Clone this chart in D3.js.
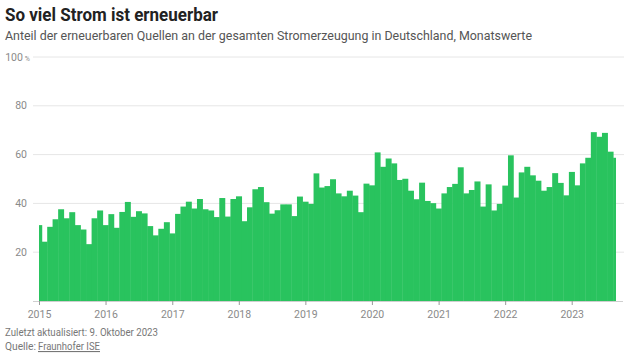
<!DOCTYPE html>
<html>
<head>
<meta charset="utf-8">
<script src="https://cdn.jsdelivr.net/npm/d3@7"></script>
<style>
	body { margin: 0; background: #fff; }
	svg { display: block; font-family: "Roboto", sans-serif; }
</style>
</head>
<body>
<div id="chart"></div>
<script>
// Anteil erneuerbarer Quellen, Monatswerte in Prozent
var years = [2015, 2016, 2017, 2018, 2019, 2020, 2021, 2022, 2023];
var v2015 = [31.1, 24.3, 30.4, 33.5, 37.6, 33.9, 36.4, 31.1, 29.3, 23.3, 33.9, 37.1];
var v2016 = [31.1, 35.6, 30.0, 36.5, 40.6, 34.5, 36.8, 35.9, 30.7, 26.9, 29.6, 32.3];
var v2017 = [27.7, 35.7, 38.7, 40.7, 37.9, 41.8, 37.6, 37.1, 34.4, 42.2, 34.6, 41.8];
var v2018 = [42.9, 32.7, 38.4, 45.8, 46.7, 40.5, 35.8, 37.2, 39.6, 39.6, 34.8, 42.8];
var v2019 = [40.7, 39.8, 52.3, 46.5, 47.1, 49.9, 44.1, 42.9, 45.2, 43.2, 36.4, 48.1];
var v2020 = [47.4, 60.9, 55.0, 58.4, 56.4, 49.6, 50.1, 45.2, 41.7, 48.5, 41.0, 40.1];
var v2021 = [37.9, 44.1, 46.7, 48.0, 54.8, 44.1, 45.5, 49.0, 38.7, 47.8, 37.1, 39.8];
var v2022 = [47.3, 59.7, 42.4, 52.7, 55.0, 51.5, 49.3, 45.2, 46.7, 52.4, 48.4, 43.3];
var v2023 = [52.9, 47.4, 56.4, 58.7, 69.2, 67.3, 68.9, 61.2, 58.7];
var yTicks = [20, 40, 60, 80, 100];

var title = "So viel Strom ist erneuerbar";
var subtitle = "Anteil der erneuerbaren Quellen an der gesamten Stromerzeugung in Deutschland, Monatswerte";

var all = [v2015, v2016, v2017, v2018, v2019, v2020, v2021, v2022, v2023];
var data = [];
all.forEach(function (arr, i) {
	arr.forEach(function (v, m) {
		data.push({ date: new Date(years[i], m, 1), value: v });
	});
});

var width = 624, height = 356;
var svg = d3.select("#chart").append("svg")
	.attr("width", width)
	.attr("height", height);

var x = d3.scaleTime()
	.domain([data[0].date, data[data.length - 1].date])
	.range([39, 616]);
var y = d3.scaleLinear()
	.domain([0, 100])
	.range([301, 57]);

// titles (condensed font not available -> squeeze with textLength)
svg.append("text")
	.attr("x", 5).attr("y", 21)
	.attr("textLength", 213).attr("lengthAdjust", "spacingAndGlyphs")
	.style("font-size", "18px").style("font-weight", "bold")
	.attr("fill", "#222")
	.text(title);
svg.append("text")
	.attr("x", 5).attr("y", 40)
	.attr("textLength", 527).attr("lengthAdjust", "spacingAndGlyphs")
	.style("font-size", "13.5px")
	.attr("fill", "#555")
	.text(subtitle);

// grid
svg.append("g").selectAll("line")
	.data(yTicks)
	.enter().append("line")
	.attr("x1", 33).attr("x2", 624)
	.attr("y1", function (d) { return y(d); })
	.attr("y2", function (d) { return y(d); })
	.attr("stroke", "#e6e6e6");

var yl = svg.append("g").selectAll("text")
	.data(yTicks)
	.enter().append("text")
	.attr("x", function (d) { return d == 100 ? 30 : 27; })
	.attr("y", function (d) { return y(d); })
	.attr("dy", "0.35em")
	.attr("text-anchor", "end")
	.attr("fill", "#8a8a8a")
	.style("font-size", "10.5px");
yl.append("tspan").text(function (d) { return d; });
yl.filter(function (d) { return d == 100; })
	.append("tspan").attr("dx", 2).style("font-size", "7px").text("%");

// bars, centred on month start, clipped to plot
svg.append("clipPath").attr("id", "clip")
	.append("rect")
	.attr("x", 39).attr("y", 0)
	.attr("width", 616 - 39).attr("height", 302);

function left(d) {
	return (x(d3.timeMonth.offset(d.date, -1)) + x(d.date)) / 2;
}
function right(d) {
	return (x(d.date) + x(d3.timeMonth.offset(d.date, 1))) / 2;
}

svg.append("g")
	.attr("clip-path", "url(#clip)")
	.selectAll("rect")
	.data(data)
	.enter().append("rect")
	.attr("x", left)
	.attr("y", function (d) { return y(d.value); })
	.attr("width", function (d) { return right(d) - left(d) + 0.4; })
	.attr("height", function (d) { return y(0) - y(d.value); })
	.attr("fill", "#29c35e");

// x axis
svg.append("line")
	.attr("x1", 33).attr("x2", 623)
	.attr("y1", 301.5).attr("y2", 301.5)
	.attr("stroke", "#cfcfcf");

var xAxis = svg.append("g")
	.attr("transform", "translate(0,301)")
	.call(d3.axisBottom(x)
		.ticks(d3.timeYear.every(1))
		.tickSize(4)
		.tickPadding(6)
		.tickFormat(d3.timeFormat("%Y")));
xAxis.select(".domain").remove();
xAxis.selectAll("line").attr("stroke", "#999");
xAxis.selectAll("text")
	.attr("fill", "#8a8a8a")
	.style("font-size", "10.5px")
	.style("font-family", "Roboto, sans-serif");

// footer
svg.append("text")
	.attr("x", 5).attr("y", 336)
	.attr("textLength", 153).attr("lengthAdjust", "spacingAndGlyphs")
	.style("font-size", "11px")
	.attr("fill", "#777")
	.text("Zuletzt aktualisiert: 9. Oktober 2023");
svg.append("text")
	.attr("x", 5).attr("y", 350)
	.attr("textLength", 31).attr("lengthAdjust", "spacingAndGlyphs")
	.style("font-size", "11px")
	.attr("fill", "#777")
	.text("Quelle:");
svg.append("text")
	.attr("x", 38).attr("y", 350)
	.attr("textLength", 62).attr("lengthAdjust", "spacingAndGlyphs")
	.style("font-size", "11px")
	.style("text-decoration", "underline")
	.attr("fill", "#777")
	.text("Fraunhofer ISE");
</script>
</body>
</html>
